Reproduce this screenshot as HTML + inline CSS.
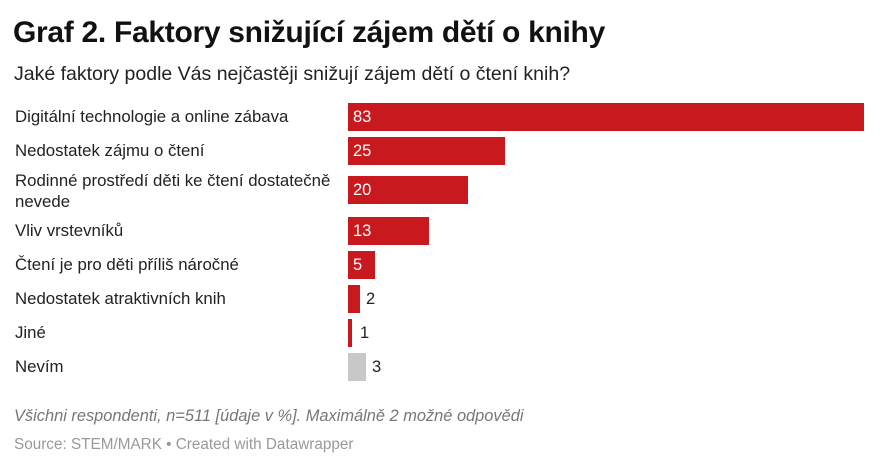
<!DOCTYPE html>
<html><head><meta charset="utf-8"><style>
body{margin:0;width:880px;height:469px;background:#fff;font-family:"Liberation Sans",sans-serif;position:relative;overflow:hidden;color:#222}
.a{position:absolute;white-space:nowrap}
.t{left:13px;top:16px;font-size:30px;font-weight:bold;color:#111;letter-spacing:-0.3px}
.s{left:14px;top:63px;font-size:19.5px;color:#222}
.l{left:15px;font-size:16.8px;color:#222;line-height:21px}
.b{position:absolute;left:348px;height:28px;background:#c8191e}
.v{position:absolute;font-size:16.5px;line-height:28px}
.in{color:#fff;left:353px}
</style></head><body>
<div class="a t">Graf 2. Faktory snižující zájem dětí o knihy</div>
<div class="a s">Jaké faktory podle Vás nejčastěji snižují zájem dětí o čtení knih?</div>

<div class="a l" style="top:106px">Digitální technologie a online zábava</div>
<div class="b" style="top:103px;width:516px"></div><div class="v in" style="top:103px">83</div>

<div class="a l" style="top:140px">Nedostatek zájmu o čtení</div>
<div class="b" style="top:137px;width:157px"></div><div class="v in" style="top:137px">25</div>

<div class="a l" style="top:170px">Rodinné prostředí děti ke čtení dostatečně<br>nevede</div>
<div class="b" style="top:176px;width:120px"></div><div class="v in" style="top:176px">20</div>

<div class="a l" style="top:220px">Vliv vrstevníků</div>
<div class="b" style="top:217px;width:81px"></div><div class="v in" style="top:217px">13</div>

<div class="a l" style="top:254px">Čtení je pro děti příliš náročné</div>
<div class="b" style="top:251px;width:27px"></div><div class="v in" style="top:251px">5</div>

<div class="a l" style="top:288px">Nedostatek atraktivních knih</div>
<div class="b" style="top:285px;width:12px"></div><div class="v" style="top:285px;left:366px">2</div>

<div class="a l" style="top:322px">Jiné</div>
<div class="b" style="top:319px;width:4px"></div><div class="v" style="top:319px;left:360px">1</div>

<div class="a l" style="top:356px">Nevím</div>
<div class="b" style="top:353px;width:18px;background:#c8c8c8"></div><div class="v" style="top:353px;left:372px">3</div>

<div class="a" style="left:14px;top:407px;font-size:16.4px;font-style:italic;color:#777">Všichni respondenti, n=511 [údaje v %]. Maximálně 2 možné odpovědi</div>
<div class="a" style="left:14px;top:436px;font-size:15.3px;color:#999">Source: STEM/MARK • Created with Datawrapper</div>
</body></html>
